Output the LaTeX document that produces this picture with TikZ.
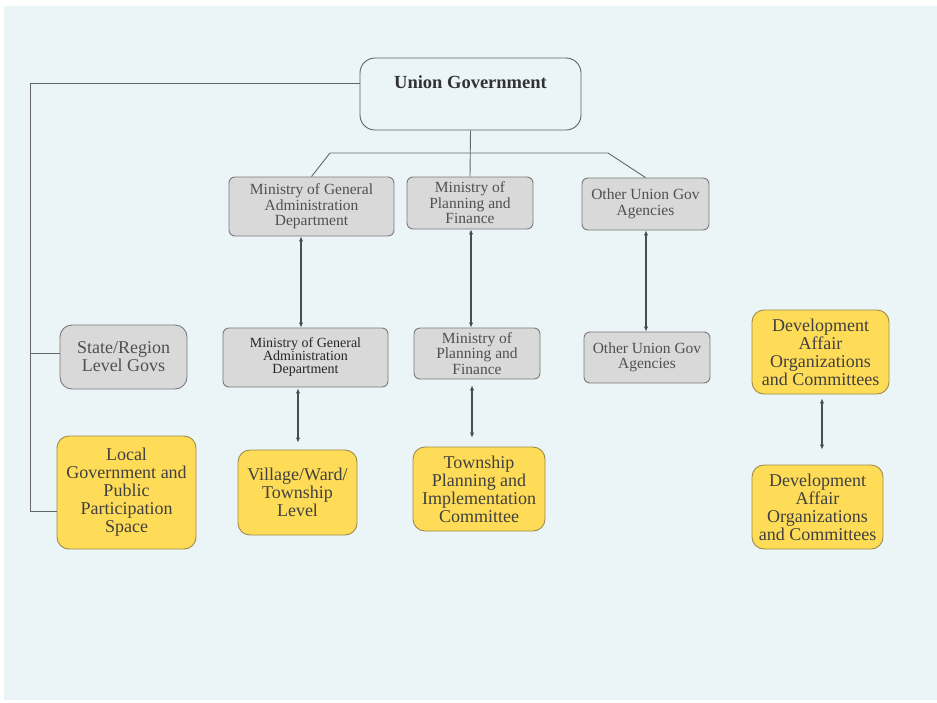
\documentclass[tikz,border=0pt]{standalone}
\usepackage{fontspec}
\setmainfont{Liberation Serif}
\newfontfamily\boxface{Liberation Serif}
\usepackage{xcolor}
\usepackage{tikz}
\usetikzlibrary{arrows.meta,positioning}

\definecolor{bgblue}{HTML}{EBF5F7}
\definecolor{boxgray}{HTML}{D9D9D9}
\definecolor{boxyellow}{HTML}{FFDC57}
\definecolor{edgegray}{HTML}{7A7A7A}
\definecolor{edgeyellow}{HTML}{9C8C4C}
\definecolor{txtgray}{HTML}{505050}

\begin{document}
\begin{tikzpicture}[x=1pt, y=-1pt,
  topbox/.style={rectangle, draw=gray!75!black, rounded corners=15pt, fill=bgblue, line width=0.9pt,
    align=center, inner sep=0pt, minimum width=221pt, text height=30pt, text depth=42pt,
    font=\boxface\fontsize{18.5}{20}\selectfont\bfseries, text=black!80},
  minbox/.style={rectangle, draw=edgegray, rounded corners=6pt, fill=boxgray, line width=0.9pt,
    align=center, inner sep=0pt, font=\boxface\fontsize{15.5}{15.5}\selectfont, text=txtgray},
  govbox/.style={rectangle, draw=edgegray, rounded corners=12pt, fill=boxgray, line width=0.9pt,
    align=center, inner sep=0pt, font=\boxface\fontsize{18}{18}\selectfont, text=txtgray},
  localbox/.style={rectangle, draw=edgeyellow, rounded corners=12pt, fill=boxyellow, line width=0.9pt,
    align=center, inner sep=0pt, font=\boxface\fontsize{18}{18}\selectfont, text=black!75},
  link/.style={draw=gray!80!black, line width=0.9pt},
  dbl/.style={{Latex[length=5pt,width=4.5pt]}-{Latex[length=5pt,width=4.5pt]}, line width=1.4pt, draw=black!70}
]

% backdrop
\fill[white] (0,0) rectangle (937,702);
\fill[bgblue] (4,6) rectangle (937,700);

\node[topbox] (ug) at (470.5,94) {Union Government};

\node[minbox, minimum width=165pt, minimum height=59pt] (mgadA) at (311.5,206.5) {Ministry of General\\Administration\\Department};
\node[minbox, minimum width=126pt, minimum height=52pt] (mpfA) at (470,203) {Ministry of\\Planning and\\Finance};
\node[minbox, minimum width=127pt, minimum height=52pt] (ougA) at (645.5,204) {Other Union Gov\\Agencies};

\node[govbox, minimum width=127pt, minimum height=64pt] (state) at (123.5,357) {State/Region\\Level Govs};
\node[minbox, minimum width=165pt, minimum height=59pt, font=\boxface\fontsize{14}{13}\selectfont, text=black!85] (mgadB) at (305.5,357.5) {Ministry of General\\Administration\\Department};
\node[minbox, minimum width=126pt, minimum height=51pt] (mpfB) at (477,353.5) {Ministry of\\Planning and\\Finance};
\node[minbox, minimum width=126pt, minimum height=51pt] (ougB) at (647,357.5) {Other Union Gov\\Agencies};

\node[localbox, minimum width=139pt, minimum height=113pt] (local) at (126.5,492.5) {Local\\Government and\\Public\\Participation\\Space};
\node[localbox, minimum width=119pt, minimum height=85pt] (village) at (297.5,492.5) {Village/Ward/\\Township\\Level};
\node[localbox, minimum width=132pt, minimum height=84pt] (tpic) at (479,489) {Township\\Planning and\\Implementation\\Committee};
\node[localbox, minimum width=137pt, minimum height=84pt] (daocA) at (820.5,352) {Development\\Affair\\Organizations\\and Committees};
\node[localbox, minimum width=131pt, minimum height=84pt] (daocB) at (817.5,507) {Development\\Affair\\Organizations\\and Committees};

% union government tree
\coordinate (sl) at (330,153);
\coordinate (sr) at (608,153);
\coordinate (lcorner) at (30,511);
\draw[link] (ug.south) -- (mpfA.north);
\draw[link] (mgadA.north) -- (sl) -- (sr) -- (ougA.north);
\draw[link] ([yshift=11pt]ug.west) -| (lcorner) -- (lcorner -| local.west);
\draw[link] ([yshift=4pt]state.west) -- ([yshift=4pt]state.west -| lcorner);

% two-way links
\draw[dbl] ([xshift=-10.5pt]mgadA.south) -- ([xshift=-10.5pt]mgadA.south |- mgadB.north);
\draw[dbl] ([xshift=1pt]mpfA.south) -- ([xshift=1pt]mpfA.south |- mpfB.north);
\draw[dbl] ([xshift=0.5pt]ougA.south) -- ([xshift=0.5pt]ougA.south |- ougB.north);
\draw[dbl, shorten <=1pt, shorten >=7pt] ([xshift=0.5pt]village.north |- mgadB.south) -- ([xshift=0.5pt]village.north);
\draw[dbl, shorten <=6pt, shorten >=9pt] ([xshift=-5pt]mpfB.south) -- ([xshift=-5pt]mpfB.south |- tpic.north);
\draw[dbl, shorten <=4pt, shorten >=15pt] ([xshift=1.5pt]daocA.south) -- ([xshift=1.5pt]daocA.south |- daocB.north);

\end{tikzpicture}
\end{document}
